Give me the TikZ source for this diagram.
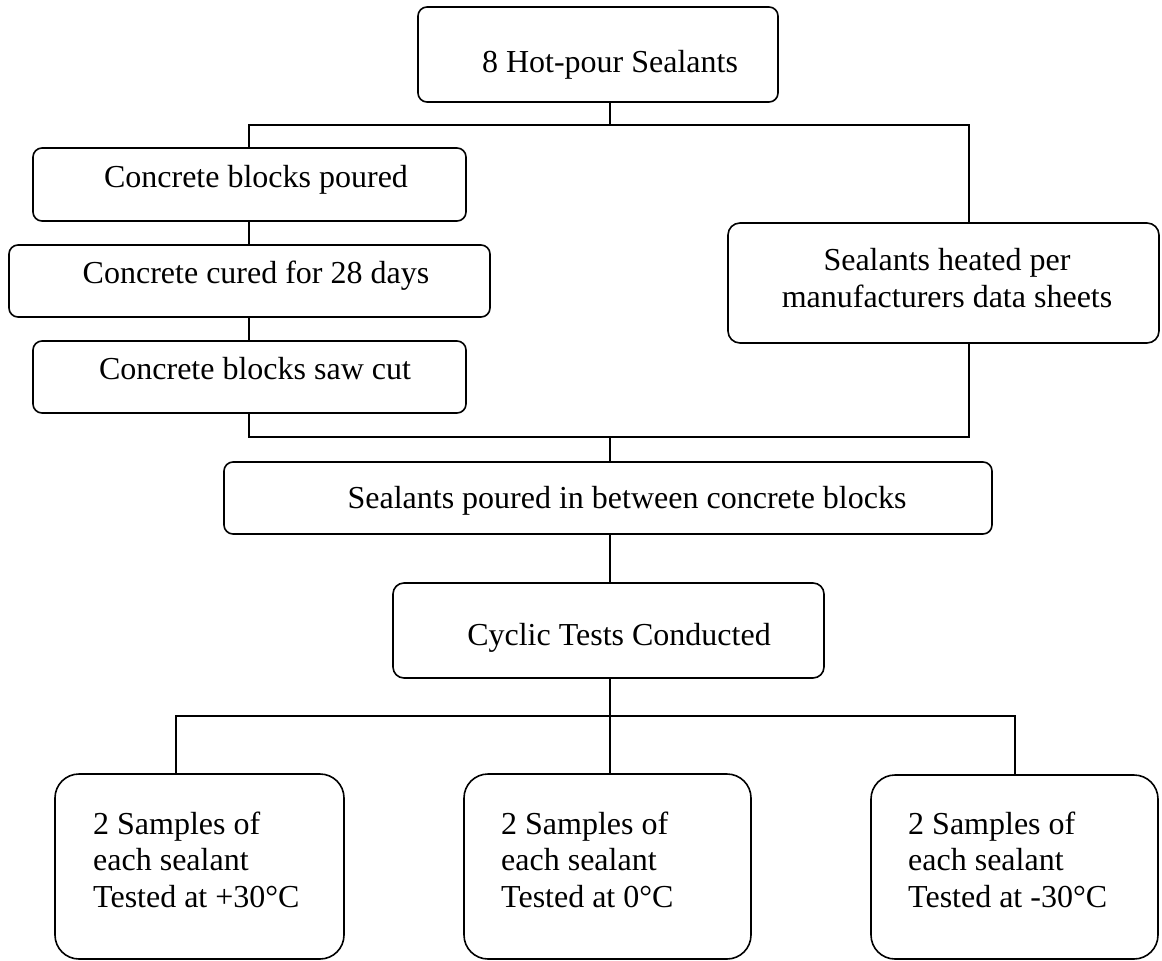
\documentclass[tikz,border=0pt]{standalone}
\usepackage{fontspec}
\setmainfont{Liberation Serif}
\begin{document}
\begin{tikzpicture}[x=1pt,y=1pt,
  box/.style={draw=black, line width=1.6pt, rounded corners=9pt, inner sep=0pt},
  bigbox/.style={box, rounded corners=24pt},
  txt/.style={inner sep=0pt, anchor=base, font=\fontsize{32}{36.5}\selectfont},
  ltxt/.style={txt, anchor=base west, align=left},
  conn/.style={draw=black, line width=1.4pt}]
\useasboundingbox (0,0) rectangle (1162,-961);
% boxes
\node[box, minimum width=360pt, minimum height=95pt] (b1) at (598,-54.5) {};
\node[box, minimum width=433pt, minimum height=73pt] (b2) at (249.5,-184.5) {};
\node[box, minimum width=481pt, minimum height=72pt] (b3) at (249.5,-281) {};
\node[box, minimum width=433pt, minimum height=72pt] (b4) at (249.5,-377) {};
\node[box, rounded corners=12pt, minimum width=431pt, minimum height=120pt] (b5) at (943.5,-283) {};
\node[box, minimum width=768pt, minimum height=72pt] (b6) at (608,-498) {};
\node[box, rounded corners=11pt, minimum width=431pt, minimum height=95pt] (b7) at (608.5,-630.5) {};
\node[bigbox, minimum width=289pt, minimum height=185pt] (b8) at (199.5,-866.5) {};
\node[bigbox, minimum width=287pt, minimum height=185pt] (b9) at (607.5,-866.5) {};
\node[bigbox, minimum width=287pt, minimum height=184pt] (b10) at (1014.5,-867) {};
% texts
\node[txt] (t1) at (610,-72) {8 Hot-pour Sealants};
\node[txt] (t2) at (256,-187) {Concrete blocks poured};
\node[txt] (t3) at (256,-283) {Concrete cured for 28 days};
\node[txt] (t4) at (255,-379) {Concrete blocks saw cut};
\node[txt, align=center] (t5) at (947,-307) {Sealants heated per\\manufacturers data sheets};
\node[txt] (t6) at (627,-508) {Sealants poured in between concrete blocks};
\node[txt] (t7) at (619,-645) {Cyclic Tests Conducted};
\node[ltxt] (t8) at (93,-907) {2 Samples of\\each sealant\\Tested at +30°C};
\node[ltxt] (t9) at (501,-907) {2 Samples of\\each sealant\\Tested at 0°C};
\node[ltxt] (t10) at (908,-907) {2 Samples of\\each sealant\\Tested at -30°C};
% junction coordinates
\coordinate (ja) at (610,-125);
\coordinate (jal) at (249,-125);
\coordinate (jar) at (969,-125);
\coordinate (jb) at (610,-437);
\coordinate (jbl) at (249,-437);
\coordinate (jbr) at (969,-437);
\coordinate (jc) at (610,-716);
\coordinate (jcl) at (176,-716);
\coordinate (jcr) at (1015,-716);
% connectors
\draw[conn] (ja |- b1.south) -- (ja);
\draw[conn] (jal |- b2.north) -- (jal) -- (jar) -- (jar |- b5.north);
\draw[conn] (jal |- b2.south) -- (jal |- b3.north);
\draw[conn] (jal |- b3.south) -- (jal |- b4.north);
\draw[conn] (jbl |- b4.south) -- (jbl) -- (jbr) -- (jbr |- b5.south);
\draw[conn] (jb) -- (jb |- b6.north);
\draw[conn] (jb |- b6.south) -- (jb |- b7.north);
\draw[conn] (jc |- b7.south) -- (jc);
\draw[conn] (jcl |- b8.north) -- (jcl) -- (jcr) -- (jcr |- b10.north);
\draw[conn] (jc) -- (jc |- b9.north);
\end{tikzpicture}
\end{document}
